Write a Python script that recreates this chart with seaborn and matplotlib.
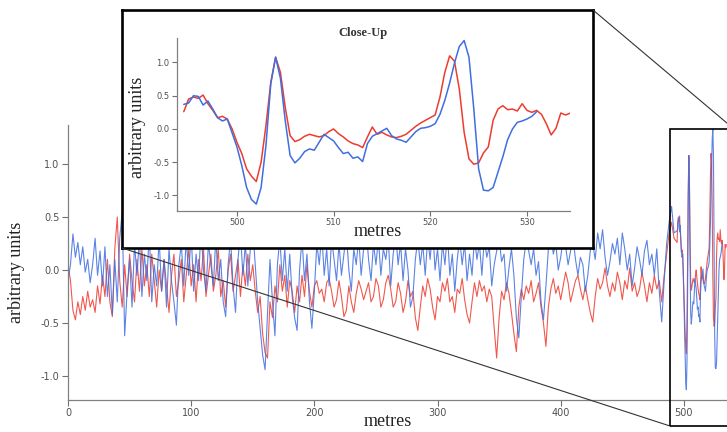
"""
Main trace of two signals with a close-up inset (IGOR-style).
"""

import matplotlib.pyplot as plt
import matplotlib.patches as mpatches
import matplotlib.lines as mlines
import numpy as np
import seaborn as sns

sns.set_theme(style="ticks")
plt.rcParams.update(
    {
        "font.family": ["DejaVu Sans"],
        "axes.edgecolor": "#808080",
        "xtick.color": "#707070",
        "ytick.color": "#707070",
        "xtick.labelcolor": "#505050",
        "ytick.labelcolor": "#505050",
    }
)

# ---- data -------------------------------------------------------------
# coarse samples every 2 m, 0 .. 492 m
COARSE_START, COARSE_STEP = 0.0, 2.0
blue_coarse = [
    -0.10, 0.05, 0.34, 0.12, 0.26, 0.05, 0.22, -0.02, 0.10, -0.12,
    0.05, 0.30, -0.05, 0.18, -0.15, 0.22, -0.25, 0.05, -0.42, 0.10,
    -0.30, 0.30, 0.55, -0.62, -0.20, 0.10, -0.35, 0.25, -0.05, 0.30,
    -0.25, 0.15, -0.10, 0.35, -0.30, 0.05, -0.15, 0.30, -0.20, 0.10,
    -0.35, 0.20, -0.10, -0.30, -0.52, 0.05, 0.25, -0.15, 0.30, -0.05,
    0.35, -0.20, 0.15, -0.10, 0.40, 0.00, -0.20, 0.25, 0.05, -0.15,
    0.30, -0.10, 0.10, -0.30, -0.44, 0.05, 0.30, -0.15, -0.40, 0.10,
    0.35, -0.05, 0.25, -0.15, 0.20, 0.40, 0.05, -0.30, -0.55, -0.80,
    -0.94, -0.40, 0.10, -0.30, -0.62, 0.05, 0.30, -0.10, 0.20, -0.20,
    0.15, -0.25, -0.45, -0.57, 0.00, 0.30, -0.10, 0.15, -0.30, -0.55,
    -0.20, 0.25, 0.05, 0.35, -0.05, 0.20, -0.15, 0.30, 0.10, -0.10,
    0.25, -0.05, 0.15, 0.35, 0.00, -0.20, 0.20, 0.05, 0.30, -0.05,
    0.20, 0.40, 0.10, -0.10, 0.25, 0.05, 0.30, -0.05, 0.20, 0.10,
    0.30, -0.15, 0.15, 0.35, 0.05, 0.25, -0.10, 0.20, 0.00, -0.35,
    -0.25, 0.10, 0.30, 0.05, 0.25, -0.05, 0.30, 0.10, 0.40, 0.00,
    0.20, -0.10, 0.25, 0.05, 0.35, -0.05, 0.15, -0.20, 0.10, 0.30,
    0.05, 0.25, -0.10, 0.15, -0.05, 0.30, 0.10, 0.25, -0.05, 0.30,
    0.12, 0.22, -0.15, 0.05, 0.18, 0.30, 0.08, 0.15, -0.20, 0.02,
    0.20, -0.05, -0.45, -0.64, -0.25, 0.10, 0.28, 0.18, 0.05, 0.20,
    -0.05, 0.08, -0.30, -0.47, -0.15, 0.20, 0.35, 0.15, 0.25, 0.00,
    0.12, 0.30, 0.22, 0.05, 0.18, 0.30, 0.10, -0.05, 0.12, 0.05,
    -0.20, -0.05, 0.18, 0.25, 0.10, 0.35, 0.20, 0.38, 0.12, -0.05,
    0.08, 0.25, 0.15, 0.30, 0.05, 0.35, 0.20, 0.00, 0.15, -0.15,
    0.02, 0.22, 0.10, -0.05, 0.18, 0.28, 0.05, 0.15, -0.05, 0.20,
    -0.20, -0.49, -0.10, 0.25, 0.45, 0.60, 0.35,
]
red_coarse = [
    0.05, -0.10, -0.38, -0.47, -0.30, -0.42, -0.25, -0.38, -0.20, -0.35,
    -0.28, -0.40, -0.15, -0.32, -0.05, -0.25, 0.10, -0.30, -0.44, 0.20,
    0.50, -0.10, -0.35, 0.05, -0.25, 0.15, -0.10, -0.30, 0.10, -0.20,
    0.20, -0.15, 0.05, -0.25, 0.15, -0.10, -0.35, 0.00, -0.20, 0.10,
    -0.15, -0.40, -0.05, 0.15, -0.25, -0.10, 0.10, -0.30, -0.05, 0.20,
    -0.15, 0.05, -0.30, 0.10, -0.10, 0.20, -0.25, -0.05, 0.15, -0.20,
    -0.05, 0.20, -0.25, -0.10, -0.35, 0.00, 0.15, -0.20, -0.05, 0.10,
    -0.25, 0.05, -0.15, 0.15, -0.10, 0.05, -0.20, -0.40, -0.25, -0.60,
    -0.78, -0.83, -0.30, -0.45, -0.15, -0.30, 0.05, -0.20, -0.05, -0.35,
    -0.10, -0.20, -0.40, -0.15, -0.30, -0.05, -0.25, 0.05, -0.20, -0.35,
    -0.15, -0.10, -0.22, -0.18, -0.30, -0.12, -0.08, -0.20, -0.35, -0.28,
    -0.10, -0.25, -0.44, -0.38, -0.15, -0.30, -0.40, -0.22, -0.10, -0.18,
    -0.28, -0.20, -0.12, -0.30, -0.25, -0.08, -0.15, -0.35, -0.28, -0.12,
    -0.05, -0.18, -0.35, -0.30, -0.12, -0.22, -0.40, -0.30, -0.10, -0.25,
    -0.20, -0.45, -0.57, -0.35, -0.15, -0.25, -0.08, -0.18, -0.35, -0.47,
    -0.25, -0.30, -0.12, -0.20, -0.08, -0.30, -0.25, -0.40, -0.18, -0.22,
    -0.08, -0.28, -0.42, -0.50, -0.30, -0.12, -0.25, -0.10, -0.20, -0.15,
    -0.30, -0.18, -0.25, -0.55, -0.83, -0.45, -0.20, -0.28, -0.12, -0.22,
    -0.40, -0.60, -0.77, -0.35, -0.18, -0.28, -0.15, -0.22, -0.10, -0.30,
    -0.22, -0.12, -0.35, -0.50, -0.72, -0.35, -0.18, -0.08, -0.22, -0.15,
    -0.28, -0.15, -0.02, -0.12, -0.30, -0.20, -0.10, -0.05, -0.18, -0.28,
    -0.15, -0.28, -0.40, -0.49, -0.25, -0.08, -0.18, -0.12, 0.02, -0.15,
    -0.25, -0.12, -0.20, -0.02, -0.12, -0.28, -0.10, -0.18, 0.02, -0.20,
    -0.12, -0.25, -0.18, -0.02, -0.15, -0.30, -0.12, -0.22, -0.05, -0.18,
    -0.10, -0.30, -0.05, 0.15, 0.35, 0.45, 0.30,
]

# fine samples every 0.5 m from 494.5 m (the close-up section)
FINE_START, FINE_STEP = 494.5, 0.5
blue_fine = [
    0.37, 0.39, 0.50, 0.49, 0.36, 0.42, 0.30, 0.17, 0.12, 0.15,
    -0.06, -0.27, -0.55, -0.88, -1.06, -1.13, -0.88, -0.25, 0.68, 1.08,
    0.76, 0.12, -0.40, -0.51, -0.44, -0.34, -0.30, -0.32, -0.20, -0.08,
    -0.13, -0.18, -0.28, -0.37, -0.35, -0.44, -0.42, -0.49, -0.22, -0.11,
    -0.07, -0.03, 0.01, -0.10, -0.15, -0.17, -0.20, -0.12, -0.04, 0.01,
    0.02, 0.04, 0.08, 0.22, 0.43, 0.69, 0.99, 1.24, 1.33, 1.08,
    0.30, -0.60, -0.92, -0.93, -0.88, -0.65, -0.42, -0.16, 0.00, 0.10,
    0.12, 0.15, 0.19, 0.26,
]
red_fine = [
    0.26, 0.45, 0.48, 0.46, 0.51, 0.38, 0.28, 0.17, 0.19, 0.15,
    0.00, -0.20, -0.37, -0.60, -0.71, -0.79, -0.50, 0.05, 0.70, 1.08,
    0.85, 0.32, -0.10, -0.19, -0.16, -0.11, -0.08, -0.10, -0.12, -0.10,
    -0.04, 0.00, -0.07, -0.12, -0.18, -0.22, -0.24, -0.28, -0.12, 0.03,
    -0.08, -0.05, -0.09, -0.12, -0.13, -0.11, -0.08, -0.02, 0.04, 0.09,
    0.13, 0.17, 0.21, 0.48, 0.85, 1.10, 1.02, 0.60, -0.05, -0.45,
    -0.53, -0.51, -0.36, -0.27, 0.13, 0.30, 0.35, 0.29, 0.30, 0.27,
    0.38, 0.28, 0.25, 0.28, 0.22, 0.08, -0.09, 0.01, 0.24, 0.21,
    0.24,
]

main_xticks = [0, 100, 200, 300, 400, 500]
inset_xticks = [500, 510, 520, 530]
yticks = [-1.0, -0.5, 0.0, 0.5, 1.0]

RED = "#ee3b2f"
BLUE = "#3f6ee0"
SERIF = ["Liberation Serif", "DejaVu Serif"]


def sample_x(start, step, values):
    return start + step * np.arange(len(values))


x_coarse_b = sample_x(COARSE_START, COARSE_STEP, blue_coarse)
x_coarse_r = sample_x(COARSE_START, COARSE_STEP, red_coarse)
x_fine_b = sample_x(FINE_START, FINE_STEP, blue_fine)
x_fine_r = sample_x(FINE_START, FINE_STEP, red_fine)

x_blue = np.concatenate([x_coarse_b, x_fine_b])
y_blue = np.concatenate([blue_coarse, blue_fine])
x_red = np.concatenate([x_coarse_r, x_fine_r])
y_red = np.concatenate([red_coarse, red_fine])

# ---- figure (pixel layout of a 727x432 canvas) -------------------------
W, H = 727, 432
fig = plt.figure(figsize=(W / 100, H / 100), dpi=100, facecolor="white")


def box(x0, y0, x1, y1):
    """pixel box (top-left origin) -> figure fraction rect"""
    return [x0 / W, 1 - y1 / H, (x1 - x0) / W, (y1 - y0) / H]


def fp(x, y):
    return x / W, 1 - y / H


def style_axes(ax, labelsize, ticklen):
    sns.despine(ax=ax)
    for s in ("left", "bottom"):
        ax.spines[s].set_linewidth(0.9)
    ax.tick_params(direction="out", length=ticklen, width=0.8, labelsize=labelsize, pad=2)
    ax.set_xlabel("")
    ax.set_ylabel("")


# main plot
ax = fig.add_axes(box(68, 125, W, 400))
ax.set_facecolor("none")
sns.lineplot(x=x_red, y=y_red, ax=ax, color=RED, linewidth=0.8, alpha=0.85, sort=False)
sns.lineplot(x=x_blue, y=y_blue, ax=ax, color=BLUE, linewidth=0.8, alpha=0.85, sort=False)
ax.set_xlim(0, 535)
ax.set_ylim(-1.226, 1.368)
ax.set_xticks(main_xticks)
ax.set_yticks(yticks)
ax.set_yticklabels([f"{t:.1f}" for t in yticks])
style_axes(ax, 7, 4)

# white framed panel behind the close-up
frame = fig.add_axes(box(122, 10, 593, 248))
frame.set_xticks([])
frame.set_yticks([])
frame.set_facecolor("white")
for s in frame.spines.values():
    s.set_visible(True)
    s.set_color("black")
    s.set_linewidth(1.9)

# close-up inset
axi = fig.add_axes(box(177, 38, 570, 210.7))
axi.set_facecolor("none")
sns.lineplot(x=x_fine_r, y=red_fine, ax=axi, color=RED, linewidth=1.1, sort=False)
sns.lineplot(x=x_fine_b, y=blue_fine, ax=axi, color=BLUE, linewidth=1.1, sort=False)
axi.set_xlim(493.8, 534.45)
axi.set_ylim(-1.229, 1.368)
axi.set_xticks(inset_xticks)
axi.set_yticks(yticks)
axi.set_yticklabels([f"{t:.1f}" for t in yticks])
style_axes(axi, 6, 3.5)

# zoom rectangle and connector lines
fig.patches.append(
    mpatches.Rectangle(fp(670, 426), 64 / W, (426 - 129) / H, transform=fig.transFigure,
                       fill=False, edgecolor="black", linewidth=1.2, zorder=5)
)
for (xa, ya), (xb, yb) in [((122, 248), (670, 426)), ((593, 10), (734, 129))]:
    (fx0, fy0), (fx1, fy1) = fp(xa, ya), fp(xb, yb)
    fig.lines.append(
        mlines.Line2D([fx0, fx1], [fy0, fy1], transform=fig.transFigure,
                      color="#333333", linewidth=0.8, zorder=5)
    )

# texts
fig.text(*fp(17, 272), "arbitrary units", rotation=90, ha="center", va="center",
         family=SERIF, fontsize=13, color="#222222")
fig.text(*fp(388, 421), "metres", ha="center", va="center",
         family=SERIF, fontsize=13, color="#222222")
fig.text(*fp(363, 33), "Close-Up", ha="center", va="center",
         family=SERIF, fontsize=9, fontweight="bold", color="#333333")
fig.text(*fp(138, 127), "arbitrary units", rotation=90, ha="center", va="center",
         family=SERIF, fontsize=13, color="#222222")
fig.text(*fp(378, 231), "metres", ha="center", va="center",
         family=SERIF, fontsize=13, color="#222222")

fig.savefig("out.png", dpi=100, facecolor="white")
